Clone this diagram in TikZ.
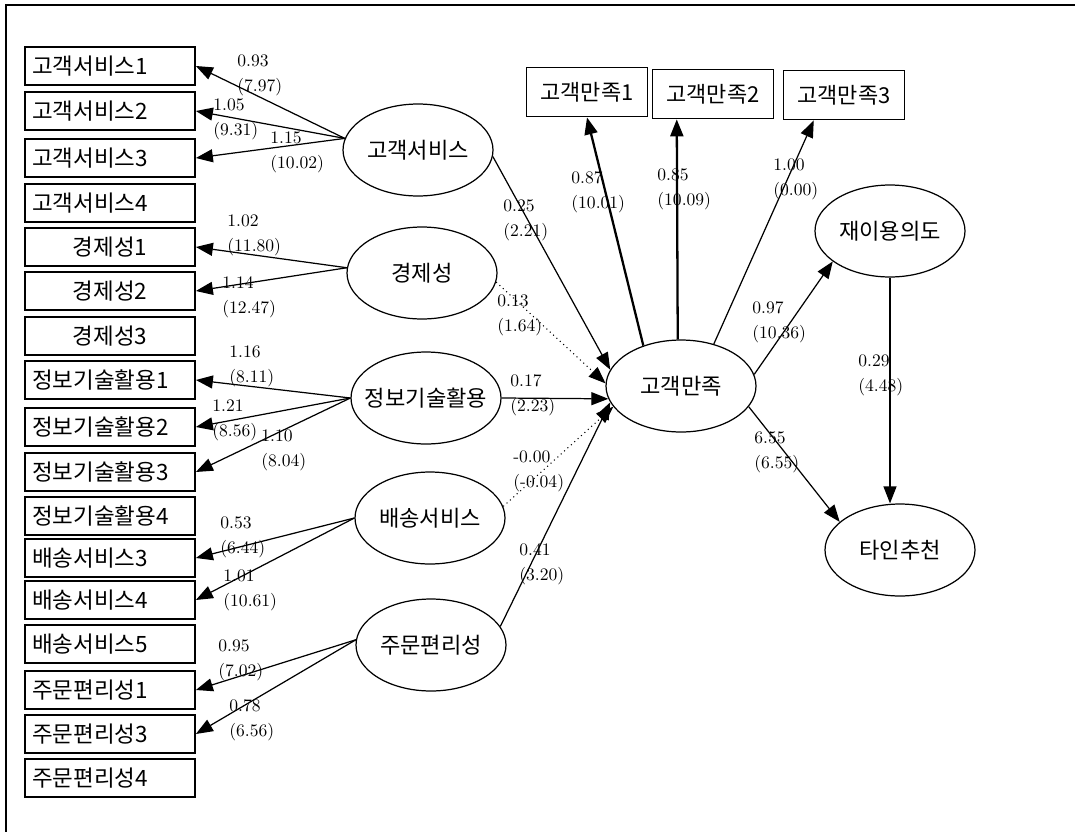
\documentclass[tikz,border=0pt]{standalone}
\usepackage{fontspec}
\newfontfamily\kr{Noto Sans CJK KR}
\usetikzlibrary{arrows.meta,shapes.geometric}

% ellipse text must not widen the ellipse
\newcommand{\elltext}[1]{\makebox[0pt]{#1}}

\begin{document}
\begin{tikzpicture}[
    x=0.02cm, y=-0.02cm,
    >={Triangle[length=3.4mm,width=2.6mm]},
    obs/.style={draw, rectangle, line width=1pt, minimum width=3.4cm, minimum height=0.76cm, inner xsep=0.14cm, text width=3.12cm, align=left, font=\kr\fontsize{12.8}{14}\selectfont},
    obsc/.style={obs, align=center},
    ind/.style={draw, rectangle, line width=1pt, minimum width=2.42cm, minimum height=0.98cm, font=\kr\fontsize{12.5}{14}\selectfont},
    lat/.style={draw, ellipse, line width=0.7pt, minimum width=3cm, minimum height=1.84cm, inner sep=0pt, font=\kr\fontsize{12.6}{14}\selectfont},
    eff/.style={->, line width=0.7pt},
    bold/.style={->, line width=1.3pt},
    ns/.style={->, dotted, line width=0.6pt},
    q/.style={anchor=west, align=left, inner sep=0pt, font=\fontsize{10}{14.2}\selectfont}
]
\useasboundingbox (0,0) rectangle (1075,832);
\draw[line width=0.6pt] (1075,5) -- (6,5) -- (6,832);

% observed variables, left column
\node[obs]  (gs1) at (110,66)  {고객서비스1};
\node[obs]  (gs2) at (110,111) {고객서비스2};
\node[obs]  (gs3) at (110,158) {고객서비스3};
\node[obs]  (gs4) at (110,203) {고객서비스4};
\node[obsc] (ec1) at (110,247) {경제성1};
\node[obsc] (ec2) at (110,291) {경제성2};
\node[obsc] (ec3) at (110,336) {경제성3};
\node[obs]  (it1) at (110,380) {정보기술활용1};
\node[obs]  (it2) at (110,427) {정보기술활용2};
\node[obs]  (it3) at (110,472) {정보기술활용3};
\node[obs]  (it4) at (110,516) {정보기술활용4};
\node[obs]  (ds3) at (110,558) {배송서비스3};
\node[obs]  (ds4) at (110,600) {배송서비스4};
\node[obs]  (ds5) at (110,644) {배송서비스5};
\node[obs]  (oc1) at (110,690) {주문편리성1};
\node[obs]  (oc3) at (110,734) {주문편리성3};
\node[obs]  (oc4) at (110,778) {주문편리성4};

% latent variables
\node[lat] (gs) at (418,150) {\elltext{고객서비스}};
\node[lat] (ec) at (422,273) {\elltext{경제성}};
\node[lat] (it) at (426,398) {\elltext{정보기술활용}};
\node[lat] (ds) at (430,518) {\elltext{배송서비스}};
\node[lat] (oc) at (431,645) {\elltext{주문편리성}};
\node[lat] (cs) at (681,386) {\elltext{고객만족}};
\node[lat] (ri) at (890,231) {\elltext{재이용의도}};
\node[lat] (wm) at (900,550) {\elltext{타인추천}};

% indicators of satisfaction
\node[ind] (cs1) at (587,92) {고객만족1};
\node[ind] (cs2) at (713,94) {고객만족2};
\node[ind] (cs3) at (844,95) {고객만족3};

% loadings
\draw[eff] (gs.171) -- (gs1.east);
\draw[eff] (gs.171) -- (gs2.east);
\draw[eff] (gs.171) -- (gs3.east);
\draw[eff] (ec.176) -- (ec1.east);
\draw[eff] (ec.176) -- (ec2.east);
\draw[eff] (it.west) -- (it1.east);
\draw[eff] (it.west) -- (it2.east);
\draw[eff] (it.west) -- (it3.east);
\draw[eff] (ds.west) -- (ds3.east);
\draw[eff] (ds.west) -- (ds4.east);
\draw[eff] (oc.176) -- (oc1.east);
\draw[eff] (oc.176) -- (oc3.east);

% structural paths
\draw[eff] (gs.-5) -- (cs.167);
\draw[ns]  (ec.-7) -- (cs.178);
\draw[eff] (it.east) -- (cs.190);
\draw[ns]  (ds.9) -- (cs.197);
\draw[eff] (oc.15) -- (cs.193);
\draw[bold] (cs.133) -- (cs1.south);
\draw[bold] (cs.94) -- (cs2.215);
\draw[eff] (cs.52) -- (cs3.220);
\draw[eff] (cs.9) -- (ri.208);
\draw[eff] (cs.-17) -- (wm.155);
\draw[eff] (ri.south) -- (ri.south |- wm.north);

% estimates (t values)
\node[q] (q1)  at (237,75)  {0.93\\(7.97)};
\node[q] (q2)  at (213,119) {1.05\\(9.31)};
\node[q] (q3)  at (270,152) {1.15\\(10.02)};
\node[q] (q4)  at (227,235) {1.02\\(11.80)};
\node[q] (q5)  at (222,297) {1.14\\(12.47)};
\node[q] (q6)  at (229,366) {1.16\\(8.11)};
\node[q] (q7)  at (212,420) {1.21\\(8.56)};
\node[q] (q8)  at (261,450) {1.10\\(8.04)};
\node[q] (q9)  at (220,537) {0.53\\(6.44)};
\node[q] (q10) at (223,590) {1.01\\(10.61)};
\node[q] (q11) at (218,660) {0.95\\(7.02)};
\node[q] (q12) at (229,720) {0.78\\(6.56)};
\node[q] (q13) at (503,220) {0.25\\(2.21)};
\node[q] (q14) at (497,315) {0.13\\(1.64)};
\node[q] (q15) at (510,395) {0.17\\(2.23)};
\node[q] (q16) at (513,471) {-0.00\\(-0.04)};
\node[q] (q17) at (519,564) {0.41\\(3.20)};
\node[q] (q18) at (571,192) {0.87\\(10.01)};
\node[q] (q19) at (657,189) {0.85\\(10.09)};
\node[q] (q20) at (773,179) {1.00\\(0.00)};
\node[q] (q21) at (752,322) {0.97\\(10.36)};
\node[q] (q22) at (858,375) {0.29\\(4.48)};
\node[q] (q23) at (754,452) {6.55\\(6.55)};
\end{tikzpicture}
\end{document}
